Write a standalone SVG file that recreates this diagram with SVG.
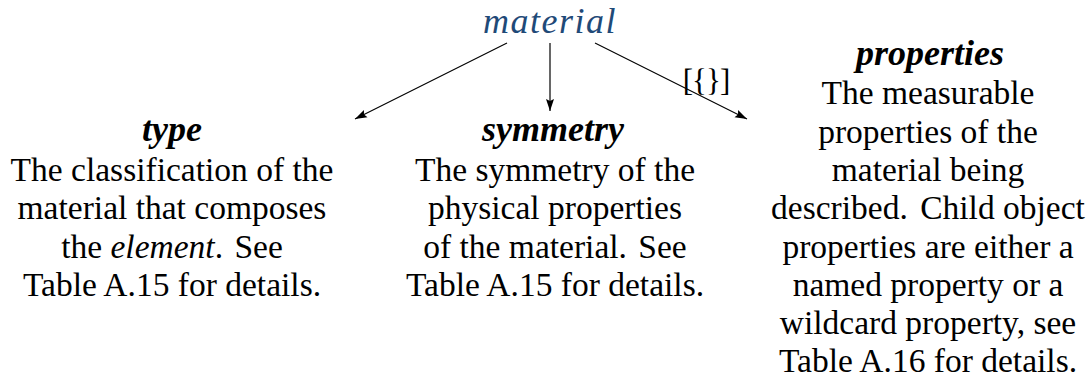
<svg xmlns="http://www.w3.org/2000/svg" width="1092" height="379" viewBox="0 0 1092 379">
  <style>
    .t { font-family: "Liberation Serif", "Times New Roman", serif; font-size: 33.5px; fill: #000; text-anchor: middle; }
    .h { font-family: "Liberation Serif", "Times New Roman", serif; font-size: 36px; font-weight: bold; font-style: italic; fill: #000; text-anchor: middle; }
    .root { font-family: "Liberation Serif", "Times New Roman", serif; font-size: 36px; font-style: italic; letter-spacing: 1.5px; fill: #1f4a78; text-anchor: middle; }
    .edge { stroke: #000; stroke-width: 1.2; fill: none; marker-end: url(#arr); }
    .lbl { font-family: "Liberation Serif", "Times New Roman", serif; font-size: 31px; letter-spacing: -1px; fill: #000; text-anchor: middle; }
  </style>
  <defs>
    <marker id="arr" markerUnits="userSpaceOnUse" markerWidth="13" markerHeight="10" refX="12" refY="5" orient="auto">
      <path d="M0,1 L12,5 L0,9 L2,5 z" fill="#000"/>
    </marker>
  </defs>
  <rect width="1092" height="379" fill="#fff"/>

  <g id="connectors">
    <line class="edge" x1="507" y1="43" x2="355" y2="119"/>
    <line class="edge" x1="550" y1="43" x2="550" y2="111"/>
    <line class="edge" x1="595" y1="43" x2="747" y2="119"/>
    <text class="lbl" x="706" y="91">[{}]</text>
  </g>

  <g id="node-material">
    <text class="root" x="550" y="33">material</text>
  </g>

  <g id="node-type">
    <text class="h" x="172" y="141">type</text>
    <text class="t" x="172" y="181">The classification of the</text>
    <text class="t" x="172" y="219">material that composes</text>
    <text class="t" x="172" y="258">the <tspan font-style="italic">element</tspan>. <tspan dx="3">See</tspan></text>
    <text class="t" x="172" y="296">Table A.15 for details.</text>
  </g>

  <g id="node-symmetry">
    <text class="h" x="553" y="141">symmetry</text>
    <text class="t" x="555" y="181">The symmetry of the</text>
    <text class="t" x="555" y="219">physical properties</text>
    <text class="t" x="555" y="258">of the material. <tspan dx="3">See</tspan></text>
    <text class="t" x="555" y="296">Table A.15 for details.</text>
  </g>

  <g id="node-properties">
    <text class="h" x="930" y="65">properties</text>
    <text class="t" x="928" y="104">The measurable</text>
    <text class="t" x="928" y="143">properties of the</text>
    <text class="t" x="928" y="181">material being</text>
    <text class="t" x="928" y="219">described. <tspan dx="4">Child object</tspan></text>
    <text class="t" x="928" y="258">properties are either a</text>
    <text class="t" x="928" y="296">named property or a</text>
    <text class="t" x="928" y="334">wildcard property, see</text>
    <text class="t" x="928" y="372">Table A.16 for details.</text>
  </g>
</svg>
